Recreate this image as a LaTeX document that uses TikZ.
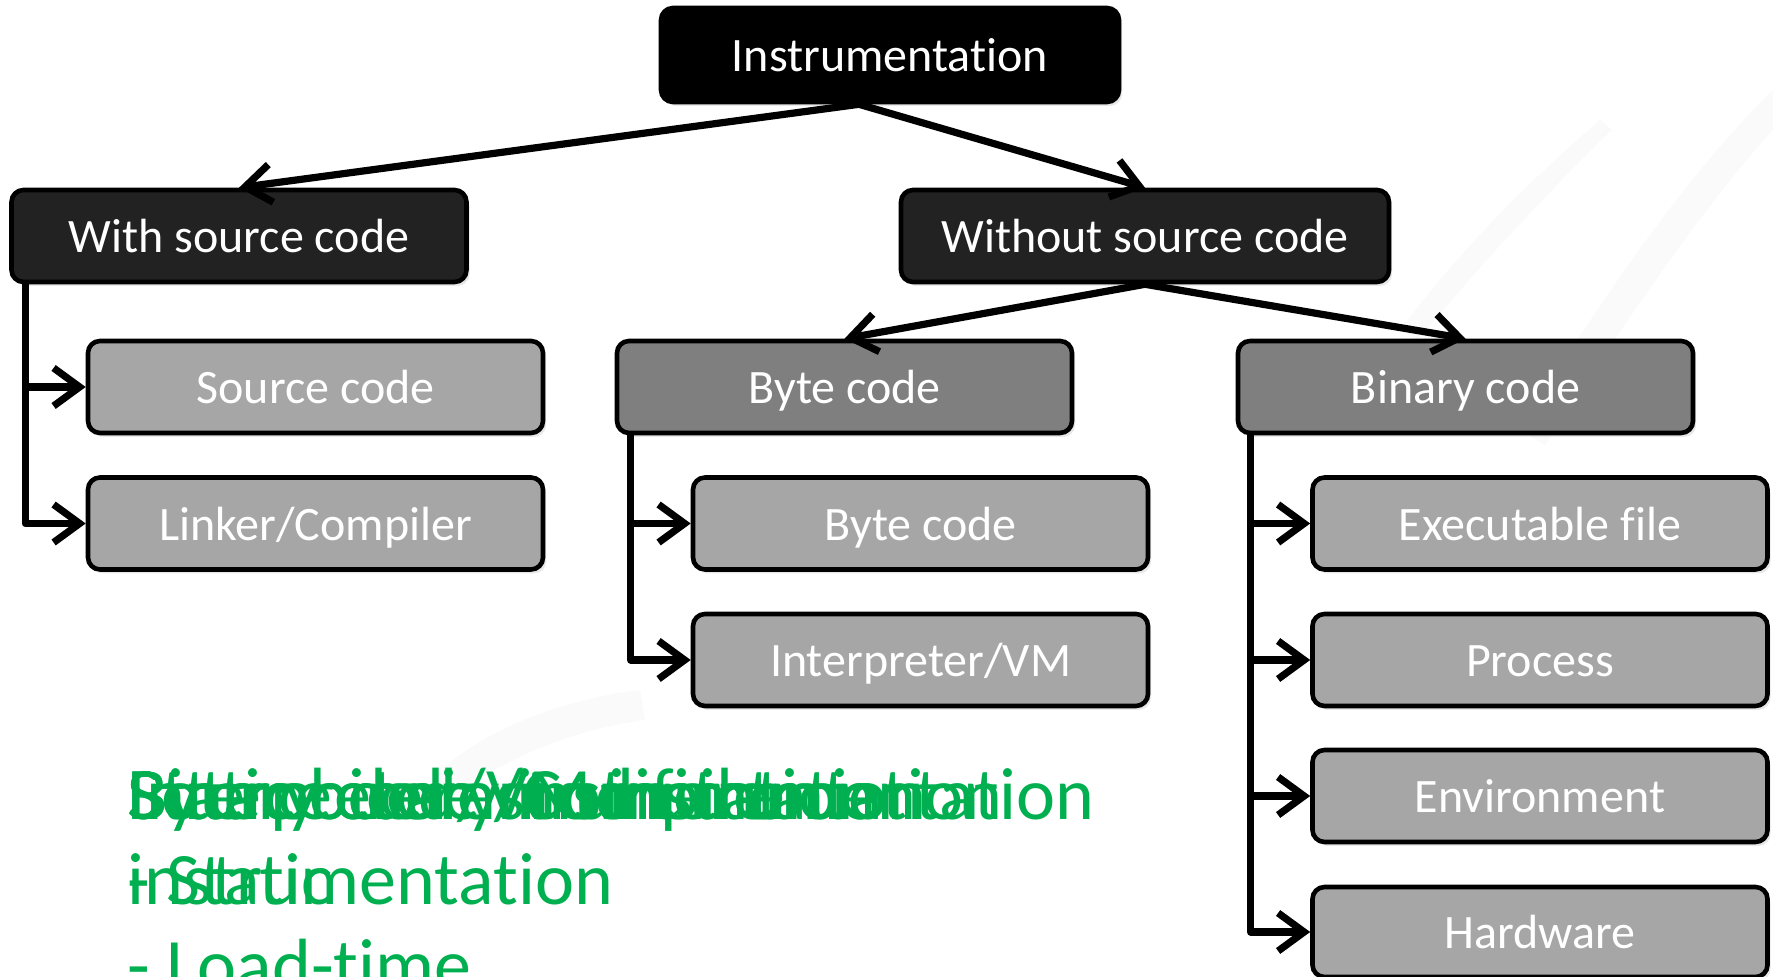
\documentclass[tikz,border=0pt]{standalone}
\usepackage{fontspec}
\setmainfont{Carlito}[Ligatures=NoCommon]
\usetikzlibrary{arrows.meta,shadows}
\definecolor{ofgreen}{HTML}{00B050}
\definecolor{catfill}{HTML}{222222}
\definecolor{midfill}{HTML}{7F7F7F}
\definecolor{leaffill}{HTML}{A6A6A6}
\begin{document}
\begin{tikzpicture}[x=0.5pt,y=-0.5pt,
  box/.style={draw=black, line width=2.3pt, rounded corners=6pt,
    minimum width=227.5pt, minimum height=46pt, inner sep=0pt,
    text height=16.8pt, text depth=0pt,
    text=white, font=\fontsize{24}{28}\selectfont,
    drop shadow={opacity=0.18, shadow xshift=1.5pt, shadow yshift=-2pt}},
  topbox/.style={box, fill=black, minimum width=229pt, minimum height=47pt},
  catbox/.style={box, fill=catfill},
  midbox/.style={box, fill=midfill},
  leafbox/.style={box, fill=leaffill},
  conn/.style={line width=3.6pt, line cap=round, line join=round,
    -{Straight Barb[length=13pt,width=19pt]}},
  greentext/.style={anchor=base west, inner sep=0pt, text=ofgreen,
    font=\fontsize{37}{43}\selectfont}]

% canvas
\fill[white] (0,0) rectangle (1773,977);
\useasboundingbox (0,0) rectangle (1773,977);

% faint brush strokes in the backdrop
\begin{scope}[opacity=0.035]
  \fill[gray] (1520,430) .. controls (1600,300) and (1690,170) .. (1773,90)
    -- (1773,130) .. controls (1700,210) and (1620,330) .. (1545,445) -- cycle;
  \fill[gray] (1400,330) .. controls (1460,250) and (1530,180) .. (1600,120)
    -- (1612,130) .. controls (1545,195) and (1480,265) .. (1418,340) -- cycle;
  \fill[gray] (430,780) .. controls (480,730) and (560,700) .. (640,690)
    -- (645,720) .. controls (570,730) and (500,760) .. (450,800) -- cycle;
\end{scope}

% boxes
\node[topbox] (ins) at (890,55) {Instrumentation};
\node[catbox] (wsc) at (239,236) {With source code};
\node[catbox, minimum width=244pt] (wosc) at (1145,236) {Without source code};
\node[leafbox] (src) at (315.5,387) {Source code};
\node[leafbox] (lnk) at (315.5,523.5) {Linker/Compiler};
\node[midbox] (bcode) at (844.5,387) {Byte code};
\node[midbox] (bin) at (1465.5,387) {Binary code};
\node[leafbox] (bsub) at (920.5,523.5) {Byte code};
\node[leafbox] (ivm) at (920.5,660) {Interpreter/VM};
\node[leafbox] (exe) at (1540,523.5) {Executable file};
\node[leafbox] (proc) at (1540,660) {Process};
\node[leafbox] (env) at (1540,796) {Environment};
\node[leafbox, minimum height=45pt] (hw) at (1540,932) {Hardware};

% tree connectors
\coordinate (insfoot) at ([xshift=-15.5pt]ins.south);
\draw[conn] (insfoot) -- (wsc.north);
\draw[conn] (insfoot) -- (wosc.north);
\draw[conn] (wosc.south) -- (bcode.north);
\draw[conn] (wosc.south) -- (bin.north);

% side rails
\coordinate (wsctrunk) at ([xshift=8pt]wsc.south west);
\draw[conn] (wsctrunk) |- (src.west);
\draw[conn] (wsctrunk) |- (lnk.west);
\coordinate (bytetrunk) at ([xshift=8pt]bcode.south west);
\draw[conn] (bytetrunk) |- (bsub.west);
\draw[conn] (bytetrunk) |- (ivm.west);
\coordinate (bintrunk) at ([xshift=7.5pt]bin.south west);
\draw[conn] (bintrunk) |- (exe.west);
\draw[conn] (bintrunk) |- (proc.west);
\draw[conn] (bintrunk) |- (env.west);
\draw[conn] (bintrunk) |- (hw.west);

% stacked green notes
\node[greentext] (ga) at (127,820) {Byte code instrumentation};
\node[greentext] (gb) at (127,820) {Binary code modification};
\node[greentext] (gc) at (127,820) {Source code/Compiler};
\node[greentext] (gd) at (127,820) {Static binary instrumentation};
\node[greentext] (ge) at (127,820) {Interpreter/VM instrumentation};
\node[greentext] (gf) at (127,905) {instrumentation};
\node[greentext] (gg) at (127,905) {- Static};
\node[greentext] (gh) at (127,990) {- Load-time};
\end{tikzpicture}
\end{document}
